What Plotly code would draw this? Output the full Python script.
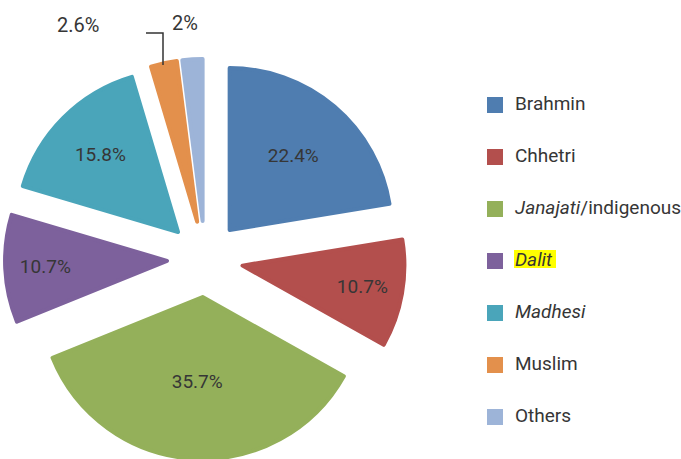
import plotly.graph_objects as go

# ---- data ----
categories = ["Brahmin", "Chhetri", "Janajati/indigenous", "Dalit", "Madhesi", "Muslim", "Others"]
legend_labels = [
    "Brahmin",
    "Chhetri",
    "<i>Janajati</i>/indigenous",
    "<i>Dalit</i>",
    "<i>Madhesi</i>",
    "Muslim",
    "Others",
]
shares = [22.4, 10.7, 35.7, 10.7, 15.8, 2.6, 2]
outside_labelled = ["Muslim", "Others"]

colors = ["#4F7DB0", "#B34F4D", "#94B05A", "#7D619C", "#4AA5BA", "#E3904C", "#9DB4D8"]

W, H = 681, 459
FONT = "Roboto, 'Liberation Sans', Arial, sans-serif"
TEXT_COLOR = "#363636"

def fmt(v):
    return f"{v:g}%"

inside_text = ["" if c in outside_labelled else fmt(v) for c, v in zip(categories, shares)]

# legend items: padded with blank lines so spacing matches reference
legend_names = ["<br><span style='font-size:19px'>%s</span><br>" % l for l in legend_labels]

fig = go.Figure()
fig.add_trace(go.Pie(
    labels=legend_names,
    values=shares,
    text=inside_text,
    textinfo="text",
    textposition="inside",
    insidetextorientation="horizontal",
    textfont=dict(family=FONT, size=19, color=TEXT_COLOR),
    marker=dict(colors=colors, line=dict(color=colors, width=4)),
    sort=False,
    direction="clockwise",
    rotation=0,
    pull=0.235,
    hoverinfo="skip",
    domain=dict(x=[5 / W, 405 / W], y=[0, 400 / H]),
))

# outside labels for the two smallest slices
pos = {"Muslim": (78, 25), "Others": (185, 23)}
for c, v in zip(categories, shares):
    if c in outside_labelled:
        px, py = pos[c]
        fig.add_annotation(
            x=px / W, y=1 - py / H, xref="paper", yref="paper",
            xanchor="center", yanchor="middle",
            text=fmt(v), showarrow=False,
            font=dict(family=FONT, size=20, color=TEXT_COLOR),
        )

shapes = [
    # leader line for the Muslim label
    dict(type="path", xref="paper", yref="paper",
         path=f"M {146 / W},{1 - 33 / H} L {163 / W},{1 - 33 / H} L {163 / W},{1 - 65 / H}",
         line=dict(color="#333333", width=1.5)),
    # yellow highlight behind "Dalit" in the legend
    dict(type="rect", xref="paper", yref="paper", layer="above",
         x0=514 / W, x1=556 / W, y0=1 - 250 / H, y1=1 - 268 / H,
         fillcolor="#FFFF00", line=dict(width=0)),
]

fig.update_layout(
    width=W, height=H,
    margin=dict(l=0, r=0, t=0, b=0, autoexpand=False),
    paper_bgcolor="white",
    plot_bgcolor="white",
    showlegend=True,
    legend=dict(
        x=475 / W, xanchor="left",
        y=1 - 74 / H, yanchor="top",
        font=dict(family=FONT, size=12.56, color=TEXT_COLOR),
        bgcolor="rgba(0,0,0,0)",
        traceorder="normal",
    ),
    shapes=shapes,
)

fig.write_html("out.html")
